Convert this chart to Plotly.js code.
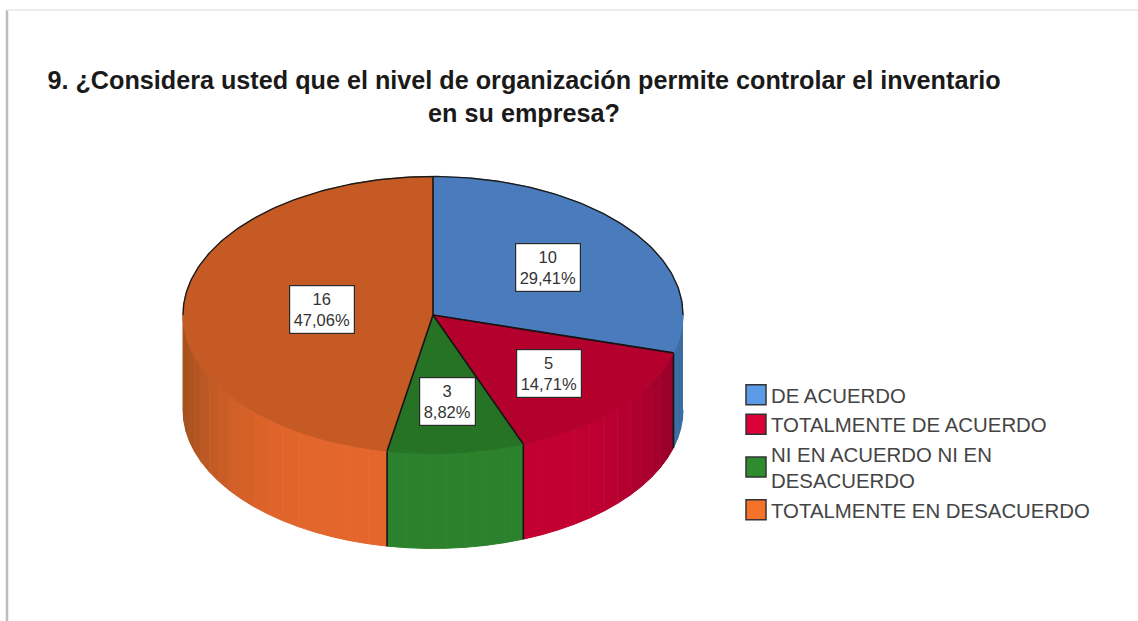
<!DOCTYPE html>
<html>
<head>
<meta charset="utf-8">
<script src="https://cdn.plot.ly/plotly-3.0.1.min.js"></script>
<style>html,body{margin:0;padding:0;background:#fff;overflow:hidden}#chart{width:1138px;height:621px}</style>
</head>
<body>
<div id="chart"></div>
<script>
const categories = ['DE ACUERDO', 'TOTALMENTE DE ACUERDO', 'NI EN ACUERDO NI EN<br>DESACUERDO', 'TOTALMENTE EN DESACUERDO'];
const counts = [10, 5, 3, 16];
const topColors = ['#4a7cbd', '#b4002d', '#267326', '#c55a24'];
const sideBright = ['#4a80c4', '#c40032', '#2c822c', '#e4662c'];
const sideDark = ['#3a6a9e', '#8c0028', '#2c822c', '#a4501e'];
const legendColors = ['#5b9be8', '#dc0038', '#2e8b2e', '#f47328'];
const titleText = '9. ¿Considera usted que el nivel de organización permite controlar el inventario<br>en su empresa?';

const W = 1138, H = 621;
const CX = 433, CY = 315, RX = 250, RY = 138.5, DEPTH = 95;
const labelFrac = [[0.575, 0.575], [0.63, 0.63], [0.63, 0.63], [0.446, 0.446]];
const total = counts.reduce((a, b) => a + b, 0);
const rad = d => d * Math.PI / 180;
const px = t => CX + RX * Math.sin(rad(t));
const py = (t, dz) => CY - RY * Math.cos(rad(t)) + (dz || 0);
const hex = c => [1, 3, 5].map(i => parseInt(c.substr(i, 2), 16));
const mix = (a, b, f) => {
  const A = hex(a), B = hex(b);
  return 'rgb(' + A.map((v, i) => Math.round(v + (B[i] - v) * f)).join(',') + ')';
};

let acc = 0;
const slices = counts.map(v => {
  const s = acc / total * 360;
  acc += v;
  return [s, acc / total * 360];
});

const base = {type: 'scatter', mode: 'lines', showlegend: false, hoverinfo: 'skip'};
const traces = [];

// side wall: vertical shaded bands on the visible lower half
const BAND = 4.5;
slices.forEach(([s, e], i) => {
  const a = Math.max(s, 90), b = Math.min(e, 270);
  if (a >= b) return;
  const n = Math.max(1, Math.round((b - a) / BAND));
  for (let k = 0; k < n; k++) {
    const t0 = a + (b - a) * k / n, t1 = a + (b - a) * (k + 1) / n;
    const xs = [], ys = [];
    for (let q = 0; q <= 3; q++) {
      const t = t0 + (t1 - t0) * q / 3;
      xs.push(px(t)); ys.push(py(t));
    }
    for (let q = 3; q >= 0; q--) {
      const t = t0 + (t1 - t0) * q / 3;
      xs.push(px(t)); ys.push(py(t, DEPTH));
    }
    const f = Math.pow(Math.abs(Math.sin(rad((t0 + t1) / 2))), 5);
    const c = mix(sideBright[i], sideDark[i], f);
    traces.push({...base, x: xs, y: ys, fill: 'toself', fillcolor: c, line: {color: c, width: 1}});
  }
});

// vertical edges between the slices on the wall
slices.forEach(([s]) => {
  if (s > 90 && s < 270) {
    traces.push({...base, x: [px(s), px(s)], y: [py(s), py(s, DEPTH)], line: {color: '#141414', width: 1.6}});
  }
});

// top faces
slices.forEach(([s, e], i) => {
  const xs = [CX], ys = [CY];
  for (let t = s; t < e; t += 1) { xs.push(px(t)); ys.push(py(t)); }
  xs.push(px(e), CX); ys.push(py(e), CY);
  traces.push({...base, x: xs, y: ys, fill: 'toself', fillcolor: topColors[i], line: {color: topColors[i], width: 1}});
});

// upper rim outline and radial edges
const rimX = [], rimY = [];
for (let t = -90; t <= 90; t += 1) { rimX.push(px(t)); rimY.push(py(t)); }
traces.push({...base, x: rimX, y: rimY, line: {color: '#1c1c1c', width: 1.4}});
slices.forEach(([s]) => {
  traces.push({...base, x: [CX, px(s)], y: [CY, py(s)], line: {color: '#141414', width: 1.6}});
});

// legend entries (no plotted point, swatch only)
categories.forEach((c, i) => {
  traces.push({
    type: 'scatter', mode: 'markers', name: c, x: [null], y: [null], hoverinfo: 'skip',
    marker: {symbol: 'square', size: 20, color: legendColors[i], line: {color: '#333', width: 1.5}}
  });
});

// value labels
const annotations = counts.map((v, i) => {
  const mid = (slices[i][0] + slices[i][1]) / 2;
  const pct = (v / total * 100).toFixed(2).replace('.', ',');
  return {
    xref: 'x', yref: 'y', showarrow: false,
    x: CX + RX * labelFrac[i][0] * Math.sin(rad(mid)),
    y: CY - RY * labelFrac[i][1] * Math.cos(rad(mid)),
    text: v + '<br>' + pct + '%',
    font: {family: 'Liberation Sans, Arial, sans-serif', size: 16.5, color: '#333'},
    bgcolor: '#fff', bordercolor: '#2a2a2a', borderwidth: 1.2, borderpad: 3.5, align: 'center'
  };
});

const layout = {
  width: W, height: H,
  margin: {l: 0, r: 0, t: 0, b: 0},
  paper_bgcolor: '#fff', plot_bgcolor: 'rgba(0,0,0,0)',
  xaxis: {range: [0, W], visible: false, fixedrange: true},
  yaxis: {range: [H, 0], visible: false, fixedrange: true},
  title: {
    text: titleText,
    font: {family: 'Liberation Sans, Arial, sans-serif', size: 25.2, color: '#1a1a1a', weight: 'bold'},
    x: 524 / W, xanchor: 'center', y: 1 - 89 / H, yanchor: 'top', automargin: false
  },
  legend: {
    x: 731 / W, xanchor: 'left', y: 1 - 375 / H, yanchor: 'top',
    font: {family: 'Liberation Sans, Arial, sans-serif', size: 20.4, color: '#444'},
    bgcolor: 'rgba(0,0,0,0)', borderwidth: 0, itemclick: false, itemdoubleclick: false
  },
  shapes: [
    {type: 'line', xref: 'paper', yref: 'paper', x0: 7 / W, x1: 7 / W, y0: 0, y1: 1 - 10 / H, line: {color: '#bdbdbd', width: 2.5}},
    {type: 'line', xref: 'paper', yref: 'paper', x0: 7 / W, x1: 1, y0: 1 - 10 / H, y1: 1 - 10 / H, line: {color: '#ececec', width: 2}}
  ],
  annotations
};

Plotly.newPlot('chart', traces, layout, {displayModeBar: false, staticPlot: true}).then(gd => {
  // enlarge the legend swatches beyond the library's 16px cap
  gd.querySelectorAll('.legend .legendpoints path.scatterpts').forEach(p => {
    p.setAttribute('d', 'M10,10H-10V-10H10Z');
    p.setAttribute('transform', 'translate(25,0)');
  });
});
</script>
</body>
</html>
